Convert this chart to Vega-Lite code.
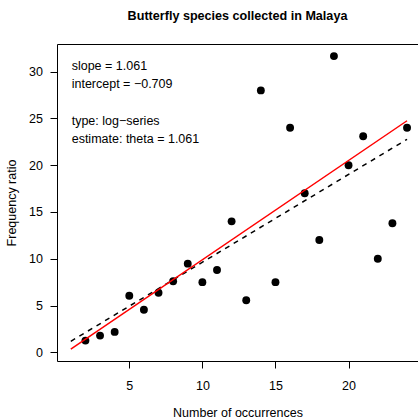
{
  "$schema": "https://vega.github.io/schema/vega-lite/v6.json",
  "width": 361,
  "height": 317,
  "autosize": {"type": "none"},
  "padding": {"left": 57, "top": 44, "right": 0, "bottom": 58},
  "background": "white",
  "config": {
    "font": "Liberation Sans",
    "view": {"stroke": null},
    "axis": {
      "grid": false,
      "domain": true,
      "domainColor": "black",
      "domainWidth": 1,
      "tickColor": "black",
      "tickWidth": 1,
      "tickSize": 7,
      "labelColor": "black",
      "labelFont": "Liberation Sans",
      "labelFontSize": 12.5,
      "titleColor": "black",
      "titleFont": "Liberation Sans",
      "titleFontSize": 12.5,
      "titleFontWeight": "normal"
    }
  },
  "title": {
    "text": "Butterfly species collected in Malaya",
    "font": "Liberation Sans",
    "fontSize": 12.6,
    "fontWeight": "bold",
    "color": "black",
    "anchor": "middle",
    "baseline": "alphabetic",
    "offset": 11
  },
  "datasets": {
    "ord": [
      {"k": 2, "ratio": 1.254},
      {"k": 3, "ratio": 1.784},
      {"k": 4, "ratio": 2.182},
      {"k": 5, "ratio": 6.042},
      {"k": 6, "ratio": 4.552},
      {"k": 7, "ratio": 6.364},
      {"k": 8, "ratio": 7.6},
      {"k": 9, "ratio": 9.474},
      {"k": 10, "ratio": 7.5},
      {"k": 11, "ratio": 8.8},
      {"k": 12, "ratio": 14.0},
      {"k": 13, "ratio": 5.571},
      {"k": 14, "ratio": 28.0},
      {"k": 15, "ratio": 7.5},
      {"k": 16, "ratio": 24.0},
      {"k": 17, "ratio": 17.0},
      {"k": 18, "ratio": 12.0},
      {"k": 19, "ratio": 31.667},
      {"k": 20, "ratio": 20.0},
      {"k": 21, "ratio": 23.1},
      {"k": 22, "ratio": 10.0},
      {"k": 23, "ratio": 13.8},
      {"k": 24, "ratio": 24.0}
    ],
    "fits": [
      {"k": 1, "ratio": 1.176, "fit": "unweighted"},
      {"k": 24, "ratio": 22.77, "fit": "unweighted"},
      {"k": 1, "ratio": 0.352, "fit": "weighted"},
      {"k": 24, "ratio": 24.755, "fit": "weighted"}
    ],
    "note": [{"label": "fit summary"}]
  },
  "resolve": {"axis": {"x": "independent", "y": "independent"}},
  "layer": [
    {
      "data": {"name": "ord"},
      "mark": {"type": "point", "filled": true, "shape": "circle", "size": 62, "color": "black", "opacity": 1},
      "encoding": {
        "x": {
          "field": "k", "type": "quantitative",
          "scale": {"domain": [0.055, 24.75], "nice": false, "zero": false},
          "axis": {"values": [5, 10, 15, 20], "labelPadding": 11, "titlePadding": 15, "title": "Number of occurrences", "orient": "bottom"}
        },
        "y": {
          "field": "ratio", "type": "quantitative",
          "scale": {"domain": [-0.93, 32.96], "nice": false, "zero": false},
          "axis": {"values": [0, 5, 10, 15, 20, 25, 30], "labelPadding": 7.5, "titlePadding": 10, "title": "Frequency ratio", "orient": "left"}
        }
      }
    },
    {
      "data": {"name": "fits"},
      "transform": [{"filter": "datum.fit === 'unweighted'"}],
      "mark": {"type": "line", "color": "black", "strokeWidth": 1.5, "strokeDash": [5, 5]},
      "encoding": {
        "x": {"field": "k", "type": "quantitative", "axis": {"orient": "top", "labels": false, "ticks": false, "title": null, "domain": true}},
        "y": {"field": "ratio", "type": "quantitative", "axis": {"orient": "right", "labels": false, "ticks": false, "title": null, "domain": false}}
      }
    },
    {
      "data": {"name": "fits"},
      "transform": [{"filter": "datum.fit === 'weighted'"}],
      "mark": {"type": "line", "color": "#ff0000", "strokeWidth": 1.5},
      "encoding": {
        "x": {"field": "k", "type": "quantitative", "axis": null},
        "y": {"field": "ratio", "type": "quantitative", "axis": null}
      }
    },
    {
      "data": {"name": "note"},
      "mark": {
        "type": "text",
        "text": ["slope = 1.061", "intercept = \u22120.709"],
        "align": "left",
        "baseline": "alphabetic",
        "lineHeight": 18.3,
        "fontSize": 12.5,
        "font": "Liberation Sans",
        "color": "black"
      },
      "encoding": {
        "x": {"datum": 1.06, "type": "quantitative", "axis": null},
        "y": {"datum": 30.18, "type": "quantitative", "axis": null}
      }
    },
    {
      "data": {"name": "note"},
      "mark": {
        "type": "text",
        "text": ["type: log\u2212series", "estimate: theta = 1.061"],
        "align": "left",
        "baseline": "alphabetic",
        "lineHeight": 18.3,
        "fontSize": 12.5,
        "font": "Liberation Sans",
        "color": "black"
      },
      "encoding": {
        "x": {"datum": 1.06, "type": "quantitative", "axis": null},
        "y": {"datum": 24.31, "type": "quantitative", "axis": null}
      }
    }
  ]
}
